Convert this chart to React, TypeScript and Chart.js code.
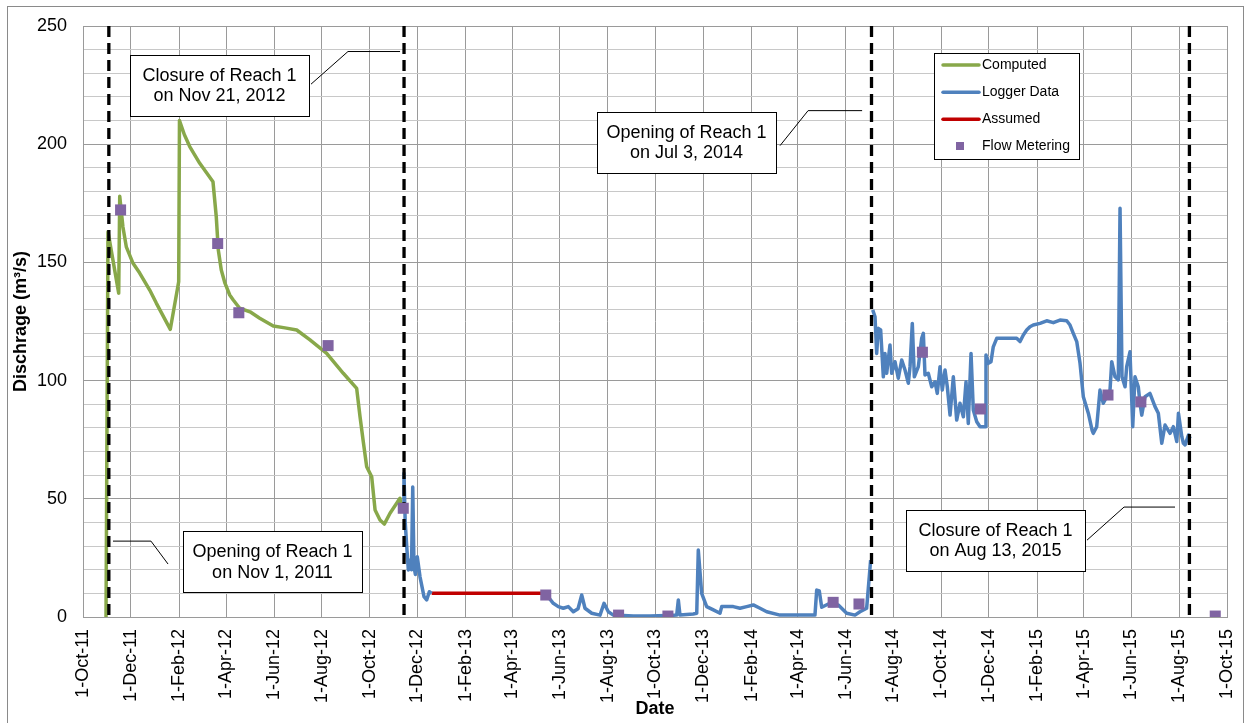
import React, { useEffect, useRef } from "react";
import { Chart, registerables } from "chart.js";
Chart.register(...registerables);

// ---- data (x values are days since 1-Oct-2011) ----
const START = Date.UTC(2011, 9, 1);
const MONTHS = ["Jan", "Feb", "Mar", "Apr", "May", "Jun", "Jul", "Aug", "Sep", "Oct", "Nov", "Dec"];

const tickDates = [
  "2011-10-01", "2011-12-01", "2012-02-01", "2012-04-01", "2012-06-01", "2012-08-01", "2012-10-01",
  "2012-12-01", "2013-02-01", "2013-04-01", "2013-06-01", "2013-08-01", "2013-10-01",
  "2013-12-01", "2014-02-01", "2014-04-01", "2014-06-01", "2014-08-01", "2014-10-01",
  "2014-12-01", "2015-02-01", "2015-04-01", "2015-06-01", "2015-08-01", "2015-10-01",
];
const yTickLabels = [0, 50, 100, 150, 200, 250];
const yGridStep = 10;

const computedDays = [29.4, 31.9, 45.6, 46.9, 51.0, 55.3, 63.9, 72.4, 85.2, 93.6, 111.5, 122.2, 123.2, 129.5, 136.3, 149.1, 166.0, 170.2, 172.8, 176.6, 181.3, 187.4, 191.9, 200.1, 213.3, 225.7, 243.0, 258.0, 272.9, 289.9, 311.2, 332.4, 349.5, 353.8, 358.0, 362.3, 368.7, 373.0, 379.3, 384.8, 392.1, 400.6, 404.8, 407.4];
const computedValues = [0, 163, 137, 178, 165, 156.6, 149.6, 145.5, 138.3, 132.8, 121.7, 141.8, 210, 204, 199, 191.9, 184.1, 169.3, 155.2, 146.8, 141.2, 136.2, 134.1, 130.6, 129.1, 126.4, 123.1, 122.3, 121.4, 117.2, 111.5, 103.1, 96.7, 84.7, 74, 63.6, 59.3, 45.3, 41, 39.3, 43.9, 48.1, 50.2, 44];

const loggerDays = [
  409.0, 409.9, 411.5, 413.4, 415.5, 417.6, 419.5, 421.1, 422.7, 424.5, 426.9, 430.4, 435.5, 438.9, 442.3, 445.3,
  500,
  585.8, 592.2, 600.6, 607.0, 613.4, 619.8, 626.2, 632.2, 636.9, 641.1, 649.7, 660.3, 665.4, 670.9, 677.3, 702.8, 724.1, 745.4, 758.2, 760.3, 762.4, 779.4, 783.8, 785.8, 790.1, 796.5, 805.0, 813.5, 815.7, 830.5, 839.0, 847.6, 856.0, 864.6, 873.2, 890.1, 915.7, 934.8, 937.0, 940.3, 943.4, 951.8, 964.6, 975.3, 985.9, 992.3, 1000.8, 1004.4, 1005.9,
  1007.0,
  1008.5, 1011.5, 1013.6, 1015.7, 1018.7, 1022.1, 1024.2, 1026.4, 1030.6, 1032.8, 1037.0, 1041.2, 1045.6, 1049.8, 1054.0, 1056.2, 1059.1, 1061.7, 1066.8, 1071.1, 1073.2, 1075.3, 1079.5, 1083.9, 1088.1, 1091.0, 1094.5, 1097.4, 1100.9, 1103.8, 1107.3, 1111.5, 1115.8, 1120.0, 1124.3, 1127.7, 1130.6, 1134.1, 1137.0, 1141.4, 1145.6, 1152.0, 1153.2, 1156.2, 1159.6, 1162.5, 1166.9, 1192.4, 1196.7, 1200.9, 1205.2, 1209.4, 1213.6, 1222.2, 1230.7, 1239.2, 1247.7, 1256.3, 1260.5, 1264.7, 1269.1, 1273.3, 1277.5, 1283.9, 1288.7, 1290.3, 1294.6, 1298.8, 1303.0, 1307.4, 1311.6, 1313.8, 1318.0, 1322.2, 1324.4, 1326.9, 1330.8, 1332.9, 1337.1, 1340.6, 1343.5, 1347.7, 1349.9, 1352.1, 1356.3, 1362.6, 1369.1, 1373.3, 1377.7, 1381.9, 1388.3, 1392.5, 1396.9, 1399.0, 1403.3, 1405.3, 1407.5, 1411.8, 1413.9,
];
const loggerValues = [
  45.7, 60.8, 40, 30, 19.9, 24, 20, 55, 21.3, 18, 25.5, 17, 8.6, 7.2, 10.7, 10,
  null,
  10, 9.3, 5.8, 4.4, 3.7, 4.4, 2.2, 3.5, 9.3, 3.7, 1.6, 0.8, 5.8, 2.2, 0.8, 0.4, 0.4, 0.6, 0.8, 7.2, 0.8, 1.3, 1.6, 28.3, 10, 4.4, 3, 1.6, 4.4, 4.4, 3.7, 4.4, 5.1, 3.7, 2.2, 0.8, 0.8, 0.8, 11.4, 11, 4.1, 5.5, 5.1, 1.6, 0.8, 2.2, 3.7, 18, 24.1,
  null,
  129.9, 127, 111.5, 122.1, 121.4, 101.6, 111.5, 103.1, 115.1, 103.1, 108, 101, 108.7, 104.5, 98.9, 105.9, 124.2, 101.6, 105.9, 117.9, 120, 102.4, 103.1, 97.4, 99.5, 94.6, 105.9, 96, 104.5, 97.4, 85.4, 101.6, 83.3, 90.4, 84.7, 99.5, 81.9, 111.5, 87.6, 82.6, 80.5, 80.5, 110.8, 107.3, 108, 114.3, 117.9, 117.9, 116.5, 119.3, 121.4, 122.8, 123.5, 124.2, 125.3, 124.5, 125.6, 125.3, 123.5, 120, 116.5, 107.3, 93.2, 86.2, 79, 77.7, 80.5, 96, 90.4, 93.2, 96, 108, 101.6, 100.3, 172.9, 101.6, 97.4, 105.9, 112.2, 80.5, 101.6, 97.4, 90.4, 85.4, 93.2, 94.6, 89, 86.2, 73.5, 81.2, 77.7, 80.5, 74.2, 86.2, 76.3, 73.5, 72.8, 77, 75.5,
];

const assumedDays = [445.3, 585.8];
const assumedValues = [10, 10];

const meteringDates = ["2011-11-18", "2012-03-21", "2012-04-17", "2012-08-09", "2012-11-13", "2013-05-14", "2013-08-15", "2013-10-17", "2014-05-16", "2014-06-18", "2014-09-07", "2014-11-20", "2015-05-02", "2015-06-13", "2015-09-16"];
const meteringValues = [172.2, 158, 128.7, 114.8, 46, 9.3, 0.8, 0.4, 6.2, 5.5, 112, 88, 93.9, 91, 0.4];

const eventLineDates = ["2011-11-03", "2012-11-14", "2014-07-04", "2015-08-14"];

const annotationTexts = [
  ["Closure of Reach 1", "on Nov 21, 2012"],
  ["Opening of Reach 1", "on Nov 1, 2011"],
  ["Opening of Reach 1", "on Jul 3, 2014"],
  ["Closure of Reach 1", "on Aug 13, 2015"],
];
// box centre and leader path, in data coordinates [day, value]
const annotationAnchors = [
  { c: [174.3, 225], leader: [[291.2, 225.4], [338.4, 239.2], [404.9, 239.2]] },
  { c: [242.0, 23.45], leader: [[108.6, 22.4], [86.8, 32.1], [38.3, 32.1]] },
  { c: [770.8, 200.9], leader: [[890.2, 199.4], [926, 214.2], [995, 214.2]] },
  { c: [1165.4, 32.5], leader: [[1282.2, 32.5], [1329.5, 46.5], [1394.6, 46.5]] },
];

const legendLabels = ["Computed", "Logger Data", "Assumed", "Flow Metering"];

// ---- helpers ----
const dayOf = (s: string) => {
  const [y, m, d] = s.split("-").map(Number);
  return (Date.UTC(y, m - 1, d) - START) / 86400000;
};
const fmt = (day: number) => {
  const dt = new Date(START + Math.round(day) * 86400000);
  return `${dt.getUTCDate()}-${MONTHS[dt.getUTCMonth()]}-${String(dt.getUTCFullYear()).slice(2)}`;
};
const zip = (xs: number[], ys: (number | null)[]) => xs.map((x, i) => ({ x, y: ys[i] }));

const GREEN = "#88A84A";
const BLUE = "#4F81BD";
const RED = "#C00000";
const PURPLE = "#8064A2";
const FONT = "'Liberation Sans', Arial, sans-serif";

const overlayPlugin = {
  id: "overlay",
  afterDatasetsDraw(chart: any) {
    const { ctx, scales, chartArea } = chart;
    const xs = scales.x, ys = scales.y;
    ctx.save();
    annotationAnchors.forEach((a, i) => {
      ctx.beginPath();
      ctx.strokeStyle = "#000";
      ctx.lineWidth = 1;
      a.leader.forEach(([d, v], k) => {
        const px = xs.getPixelForValue(d), py = ys.getPixelForValue(v);
        if (k === 0) ctx.moveTo(px, py); else ctx.lineTo(px, py);
      });
      ctx.stroke();
      const cx = xs.getPixelForValue(a.c[0]);
      const cy = ys.getPixelForValue(a.c[1]);
      const w = 179, h = 61;
      const bx = Math.round(cx - w / 2) + 0.5, by = Math.round(cy - h / 2) + 0.5;
      ctx.fillStyle = "#fff";
      ctx.fillRect(bx, by, w, h);
      ctx.strokeStyle = "#000";
      ctx.strokeRect(bx, by, w, h);
      ctx.fillStyle = "#000";
      ctx.font = `18px ${FONT}`;
      ctx.textAlign = "center";
      ctx.textBaseline = "middle";
      ctx.fillText(annotationTexts[i][0], cx, cy - 9.5);
      ctx.fillText(annotationTexts[i][1], cx, cy + 11);
    });
    // legend
    const lx = chartArea.left + 851, ly = chartArea.top + 27;
    ctx.fillStyle = "#fff";
    ctx.fillRect(lx + 0.5, ly + 0.5, 145, 106);
    ctx.strokeStyle = "#000";
    ctx.lineWidth = 1;
    ctx.strokeRect(lx + 0.5, ly + 0.5, 145, 106);
    const colors = [GREEN, BLUE, RED];
    const rows = [12, 39.3, 66.3, 93];
    ctx.font = `14px ${FONT}`;
    ctx.textAlign = "left";
    ctx.textBaseline = "middle";
    rows.forEach((ry, i) => {
      const yy = ly + ry;
      if (i < 3) {
        ctx.beginPath();
        ctx.strokeStyle = colors[i];
        ctx.lineWidth = 3.5;
        ctx.lineCap = "round";
        ctx.moveTo(lx + 9, yy);
        ctx.lineTo(lx + 45, yy);
        ctx.stroke();
      } else {
        ctx.fillStyle = PURPLE;
        ctx.fillRect(lx + 22, yy - 4, 8, 8);
      }
      ctx.fillStyle = "#000";
      ctx.fillText(legendLabels[i], lx + 48, yy);
    });
    ctx.restore();
  },
  afterDraw(chart: any) {
    const { ctx } = chart;
    ctx.save();
    ctx.strokeStyle = "#8a8a8a";
    ctx.lineWidth = 1;
    ctx.strokeRect(7.5, 6.5, 1236, 740);
    ctx.restore();
  },
};

export default function App() {
  const ref = useRef<HTMLCanvasElement | null>(null);
  useEffect(() => {
    document.body.style.margin = "0";
    const tickDays = tickDates.map(dayOf);
    const yMax = yTickLabels[yTickLabels.length - 1];
    const yGrid: number[] = [];
    for (let v = 0; v <= yMax; v += yGridStep) yGrid.push(v);
    const eventSets = eventLineDates.map((d) => ({
      type: "line" as const,
      data: [{ x: dayOf(d), y: yMax }, { x: dayOf(d), y: 0 }],
      borderColor: "#000",
      borderWidth: 3.3,
      borderDash: [11, 6],
      pointRadius: 0,
      order: 1,
    }));
    const chart = new Chart(ref.current as HTMLCanvasElement, {
      type: "line",
      data: {
        datasets: [
          {
            label: "Flow Metering",
            data: zip(meteringDates.map(dayOf), meteringValues),
            showLine: false,
            pointStyle: "rect",
            pointRadius: 7.8,
            pointBackgroundColor: PURPLE,
            pointBorderWidth: 0,
            borderColor: PURPLE,
            order: 0,
          },
          ...eventSets,
          {
            label: "Logger Data",
            data: zip(loggerDays, loggerValues),
            borderColor: BLUE,
            borderWidth: 3.5,
            pointRadius: 0,
            tension: 0,
            spanGaps: false,
            borderJoinStyle: "round",
            order: 2,
          },
          {
            label: "Assumed",
            data: zip(assumedDays, assumedValues),
            borderColor: RED,
            borderWidth: 3.5,
            pointRadius: 0,
            order: 3,
          },
          {
            label: "Computed",
            data: zip(computedDays, computedValues),
            borderColor: GREEN,
            borderWidth: 3.5,
            pointRadius: 0,
            tension: 0,
            borderJoinStyle: "round",
            order: 4,
          },
        ] as any,
      },
      options: {
        animation: false,
        responsive: true,
        maintainAspectRatio: false,
        layout: { padding: { left: 0, top: 26, right: 23, bottom: 0 } },
        plugins: { legend: { display: false }, tooltip: { enabled: false } },
        scales: {
          x: {
            type: "linear",
            min: 0,
            max: 1461,
            afterBuildTicks: (scale: any) => {
              scale.ticks = tickDays.map((v) => ({ value: v }));
            },
            afterFit: (scale: any) => {
              scale.height = 106;
              scale.paddingLeft = 0;
              scale.paddingRight = 0;
            },
            ticks: {
              autoSkip: false,
              minRotation: 90,
              maxRotation: 90,
              padding: 12,
              color: "#000",
              font: { family: FONT, size: 18 },
              callback: (v: any) => fmt(Number(v)),
            },
            grid: { color: "#9a9a9a", lineWidth: 1, drawTicks: false },
            border: { display: true, color: "#9a9a9a" },
            title: {
              display: true,
              text: "Date",
              color: "#000",
              font: { family: FONT, size: 18, weight: "bold" },
              padding: { top: 0, bottom: 3 },
            },
          },
          y: {
            type: "linear",
            min: 0,
            max: yMax,
            afterBuildTicks: (scale: any) => {
              scale.ticks = yGrid.map((v) => ({ value: v }));
            },
            afterFit: (scale: any) => {
              scale.width = 83;
              scale.paddingTop = 0;
              scale.paddingBottom = 0;
            },
            ticks: {
              autoSkip: false,
              padding: 16,
              color: "#000",
              font: { family: FONT, size: 18 },
              callback: (v: any) => (yTickLabels.includes(Number(v)) ? String(v) : ""),
            },
            grid: {
              color: (c: any) => (c.tick && c.tick.value % 50 === 0 ? "#9a9a9a" : "#c8c8c8"),
              lineWidth: 1,
              drawTicks: false,
            },
            border: { display: true, color: "#9a9a9a" },
            title: {
              display: true,
              text: "Dischrage (m³/s)",
              color: "#000",
              font: { family: FONT, size: 18, weight: "bold" },
              padding: { top: 10, bottom: 0 },
            },
          },
        },
      } as any,
      plugins: [overlayPlugin],
    });
    return () => chart.destroy();
  }, []);
  return (
    <div style={{ position: "fixed", left: 0, top: 0, width: 1250, height: 723, background: "#fff" }}>
      <canvas ref={ref} />
    </div>
  );
}
